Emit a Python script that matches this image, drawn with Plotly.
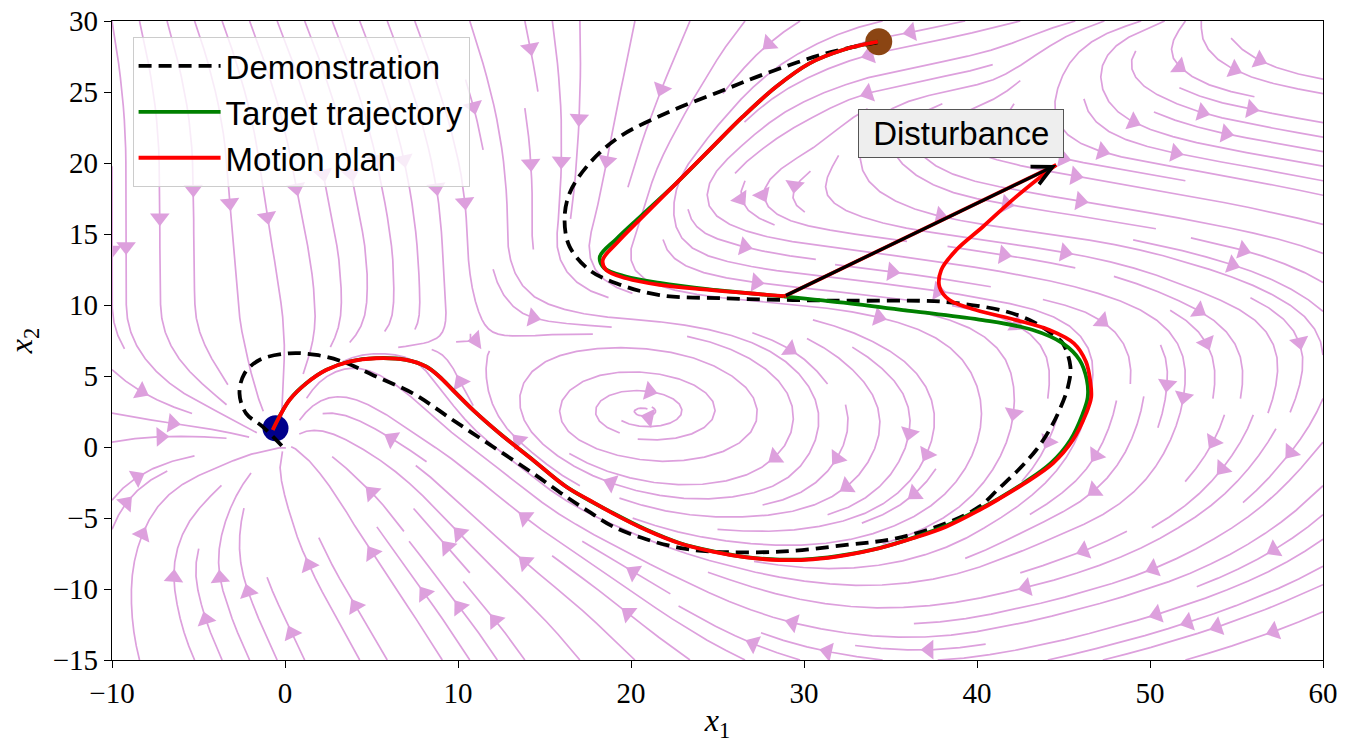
import math
import numpy as np
import plotly.graph_objects as go

# ------------------------------------------------------------------
# DATA
# ------------------------------------------------------------------
# Vector field sampled on a coarse grid; directions (degrees, 0 = right,
# 90 = up, as drawn) read from the stream-plot arrows. None = attractor.
field_x = [-10, -5, 0, 5, 10, 15, 20, 25, 30, 35, 40, 45, 50, 55, 60]
field_y = [-15, -10, -5, 0, 5, 10, 15, 20, 25, 30]
angle_row_m15 = [100, 115, 115, 120, 122, 125, 135, 150, 165, 175, -172, -167, -165, -163, -160]
angle_row_m10 = [85, 102, 115, 122, 128, 140, 145, 157, 170, -177, -168, -165, -162, -158, -155]
angle_row_m5 = [65, 55, 105, 125, 135, 145, 160, 178, -170, -155, -145, -155, -148, -145, -140]
angle_row_0 = [15, 5, None, 150, 145, 140, 172, -160, -115, -110, -110, -118, -115, -122, -130]
angle_row_5 = [-40, -45, -95, 155, 115, 40, 0, -30, -50, -45, -65, -95, -92, -90, -105]
angle_row_10 = [-90, -88, -82, -95, -85, -22, -5, -5, -5, -7, -10, -15, -25, -25, -38]
angle_row_15 = [-90, -90, -78, -80, -88, -92, -115, -20, -8, -8, -8, -8, -10, -12, -15]
angle_row_20 = [-90, -88, -80, -78, -78, -88, -105, -135, -150, -50, -15, -10, -10, -10, -10]
angle_row_25 = [-85, -78, -72, -72, -72, -82, -105, -125, -155, -168, -168, -100, -30, -12, -10]
angle_row_30 = [-80, -70, -68, -68, -70, -80, -100, -120, -150, -170, -167, -165, -165, -60, -10]

# Demonstration (goal at the origin)
demo_x = [34.25, 31.28, 27.81, 25.12, 22.23, 19.34, 17.60, 16.45, 16.16, 16.45, 17.60, 19.14,
          21.65, 25.50, 29.35, 32.63, 36.68, 38.41, 41.50, 43.23, 44.40, 44.96, 45.40, 45.25,
          44.77, 44.19, 43.42, 42.40, 41.20, 40.14, 38.22, 35.33, 32.44, 28.58, 24.73, 22.80,
          20.88, 18.95, 17.50, 16.25, 14.33, 12.02, 9.70, 7.39, 5.27, 3.34, 1.80, 0.26,
          -1.48, -2.34, -2.63, -2.25, -1.28, -0.13]
demo_y = [28.50, 27.72, 26.31, 25.02, 23.61, 21.85, 19.98, 17.87, 15.99, 14.11, 12.46, 11.53,
          10.70, 10.47, 10.35, 10.30, 10.30, 10.19, 9.60, 8.83, 7.90, 7.30, 5.65, 4.20,
          2.61, 1.20, -0.21, -1.60, -3.00, -4.20, -5.37, -6.43, -6.90, -7.37, -7.37, -7.10,
          -6.50, -5.60, -4.50, -3.50, -1.85, 0.02, 1.90, 3.78, 4.96, 6.01, 6.48, 6.60,
          6.13, 5.18, 3.78, 2.37, 1.42, 0.02]

# Target trajectory
target_x = [34.27, 32.24, 30.32, 28.39, 26.46, 24.54, 22.61, 20.60, 19.15, 18.20, 18.45, 19.70,
            21.65, 24.54, 28.87, 32.63, 36.49, 40.34, 43.23, 44.96, 45.93, 46.35, 46.40, 46.10,
            45.40, 44.30, 42.75, 41.30, 40.10, 38.20, 36.30, 34.40, 32.45, 30.50, 28.60, 26.65,
            24.75, 22.80, 20.90, 18.95, 16.25, 14.33, 12.40, 10.86, 9.70, 8.93, 8.16, 7.00,
            5.27, 3.73, 2.38, 1.23, 0.26, -0.32, -0.70]
target_y = [28.54, 27.96, 27.02, 25.37, 23.26, 20.92, 18.57, 16.30, 14.65, 13.40, 12.60, 12.00,
            11.55, 11.10, 10.60, 10.12, 9.53, 8.94, 8.24, 7.30, 6.13, 4.72, 3.50, 2.30,
            0.50, -1.10, -2.50, -3.60, -4.40, -5.55, -6.40, -7.10, -7.58, -7.88, -7.93, -7.75,
            -7.35, -6.76, -5.83, -4.65, -2.79, -0.91, 0.97, 2.62, 4.02, 4.96, 5.67, 6.14,
            6.26, 6.02, 5.43, 4.49, 3.32, 2.15, 1.22]

# Motion plan before the disturbance
plan_x = [34.27, 32.24, 30.32, 28.39, 26.46, 24.54, 22.61, 20.68, 19.25, 18.37, 18.56, 19.72,
          21.65, 24.54, 28.87]
plan_y = [28.54, 27.96, 27.02, 25.37, 23.26, 20.92, 18.57, 16.22, 14.45, 13.17, 12.46, 11.88,
          11.41, 11.06, 10.62]
# Disturbance (state jump)
disturbance_x = [28.87, 44.58]
disturbance_y = [10.62, 19.86]
# Motion plan after the disturbance
plan_after_x = [44.58, 44.19, 42.27, 40.34, 38.80, 37.93, 37.83, 38.41, 39.95, 42.27, 44.19,
                45.60, 46.30, 46.55, 46.60, 46.31, 45.54, 44.39, 42.70, 41.35, 40.14, 38.22,
                36.29, 34.36, 32.44, 30.51, 28.58, 26.66, 24.73, 22.80, 20.88, 18.95, 17.60,
                16.25, 14.33, 12.40, 10.86, 9.70, 8.93, 8.16, 7.00, 5.27, 3.73, 2.38, 1.23,
                0.26, -0.32, -0.71]
plan_after_y = [19.86, 19.51, 17.63, 15.51, 13.87, 12.46, 11.29, 10.35, 9.65, 8.94, 8.24,
                7.30, 6.00, 4.60, 3.50, 2.37, 0.49, -1.15, -2.60, -3.60, -4.44, -5.61,
                -6.43, -7.13, -7.61, -7.91, -7.96, -7.77, -7.37, -6.78, -5.85, -4.67, -3.75,
                -2.80, -0.92, 0.96, 2.61, 4.01, 4.95, 5.66, 6.13, 6.25, 6.01, 5.42, 4.48,
                3.31, 2.14, 1.20]

start_x, start_y = [-0.55], [1.32]
goal_x, goal_y = [34.32], [28.54]
disturbance_label = "Disturbance"
label_x, label_y = [39.05], [22.11]

x_ticks = [-10, 0, 10, 20, 30, 40, 50, 60]
y_ticks = [-15, -10, -5, 0, 5, 10, 15, 20, 25, 30]

# ------------------------------------------------------------------
# LAYOUT CONSTANTS
# ------------------------------------------------------------------
W, H = 1348, 747
M_L, M_R, M_T, M_B = 112, 25, 21, 87
X_RANGE = [-10, 60]
Y_RANGE = [-15, 30]
PX_X = (W - M_L - M_R) / (X_RANGE[1] - X_RANGE[0])
PX_Y = (H - M_T - M_B) / (Y_RANGE[1] - Y_RANGE[0])
STREAM_COLOR = "#DDA0DD"

# ------------------------------------------------------------------
# Stream lines (matplotlib-style streamplot algorithm)
# ------------------------------------------------------------------
rows = [angle_row_m15, angle_row_m10, angle_row_m5, angle_row_0, angle_row_5,
        angle_row_10, angle_row_15, angle_row_20, angle_row_25, angle_row_30]
U = np.zeros((len(field_y), len(field_x)))
V = np.zeros((len(field_y), len(field_x)))
for j, row in enumerate(rows):
    for i, a in enumerate(row):
        if a is None:
            continue
        t = math.radians(a)
        U[j, i] = math.cos(t) / PX_X
        V[j, i] = math.sin(t) / PX_Y


def stream_paths(xs, ys, U, V, density=1.5, maxlength=4.0, minlength=0.1):
    nxg, nyg = len(xs), len(ys)
    dxg = (xs[-1] - xs[0]) / (nxg - 1)
    dyg = (ys[-1] - ys[0]) / (nyg - 1)
    ug = U / dxg
    vg = V / dyg
    speed = np.hypot(ug / (nxg - 1), vg / (nyg - 1))
    nxm = nym = int(30 * density)
    mask = np.zeros((nym, nxm), dtype=np.int8)
    gx2m = (nxm - 1) / (nxg - 1)
    gy2m = (nym - 1) / (nyg - 1)
    maxds = min(1.0 / nxm, 1.0 / nym, 0.1)
    maxerror = 0.003

    class Terminate(Exception):
        pass

    class OutOfBounds(Exception):
        pass

    def within(xi, yi):
        return 0 <= xi <= nxg - 1 and 0 <= yi <= nyg - 1

    def interp(a, xi, yi):
        x = int(xi)
        y = int(yi)
        xn = x if x == nxg - 1 else x + 1
        yn = y if y == nyg - 1 else y + 1
        xt = xi - x
        yt = yi - y
        a0 = a[y, x] * (1 - xt) + a[y, xn] * xt
        a1 = a[yn, x] * (1 - xt) + a[yn, xn] * xt
        return a0 * (1 - yt) + a1 * yt

    st = {"traj": [], "cur": None}

    def update(xi, yi):
        if not within(xi, yi):
            raise Terminate
        xm = int(round(xi * gx2m))
        ym = int(round(yi * gy2m))
        if st["cur"] != (xm, ym):
            if mask[ym, xm] == 0:
                st["traj"].append((ym, xm))
                mask[ym, xm] = 1
                st["cur"] = (xm, ym)
            else:
                raise Terminate

    def make_f(sign):
        def f(xi, yi):
            if not within(xi, yi):
                raise OutOfBounds
            s = interp(speed, xi, yi)
            if s < 1e-12:
                raise Terminate
            return sign * interp(ug, xi, yi) / s, sign * interp(vg, xi, yi) / s
        return f

    def euler_to_edge(traj, f):
        xi, yi = traj[-1]
        cx, cy = f(xi, yi)
        dsx = np.inf if cx == 0 else (xi / -cx if cx < 0 else (nxg - 1 - xi) / cx)
        dsy = np.inf if cy == 0 else (yi / -cy if cy < 0 else (nyg - 1 - yi) / cy)
        ds = min(dsx, dsy)
        traj.append((xi + cx * ds, yi + cy * ds))
        return ds

    def rk12(x0, y0, f):
        ds = maxds
        stotal = 0.0
        xi, yi = x0, y0
        traj = []
        while True:
            try:
                if within(xi, yi):
                    traj.append((xi, yi))
                else:
                    raise OutOfBounds
                k1x, k1y = f(xi, yi)
                k2x, k2y = f(xi + ds * k1x, yi + ds * k1y)
            except OutOfBounds:
                if traj:
                    try:
                        stotal += euler_to_edge(traj, f)
                    except (OutOfBounds, Terminate):
                        pass
                break
            except Terminate:
                break
            dx1 = ds * k1x
            dy1 = ds * k1y
            dx2 = ds * 0.5 * (k1x + k2x)
            dy2 = ds * 0.5 * (k1y + k2y)
            err = math.hypot((dx2 - dx1) / (nxg - 1), (dy2 - dy1) / (nyg - 1))
            if err < maxerror:
                xi += dx2
                yi += dy2
                try:
                    update(xi, yi)
                except Terminate:
                    break
                if stotal + ds > maxlength:
                    break
                stotal += ds
            ds = maxds if err == 0 else min(maxds, 0.85 * ds * (maxerror / err) ** 0.5)
        return stotal, traj

    def integrate(x0, y0):
        if not within(x0, y0):
            return None
        st["traj"] = []
        try:
            update(x0, y0)
        except Terminate:
            return None
        s1, t1 = rk12(x0, y0, make_f(-1.0))
        st["cur"] = (int(round(x0 * gx2m)), int(round(y0 * gy2m)))
        s2, t2 = rk12(x0, y0, make_f(1.0))
        if s1 + s2 > minlength:
            return t1[::-1] + t2[1:]
        for (ym, xm) in st["traj"]:
            mask[ym, xm] = 0
        return None

    def starts(ny, nx):
        xfirst, yfirst, xlast, ylast = 0, 1, nx - 1, ny - 1
        x, y = 0, 0
        direction = "right"
        for _ in range(nx * ny):
            yield x, y
            if direction == "right":
                x += 1
                if x >= xlast:
                    xlast -= 1
                    direction = "up"
            elif direction == "up":
                y += 1
                if y >= ylast:
                    ylast -= 1
                    direction = "left"
            elif direction == "left":
                x -= 1
                if x <= xfirst:
                    xfirst += 1
                    direction = "down"
            elif direction == "down":
                y -= 1
                if y <= yfirst:
                    yfirst += 1
                    direction = "right"

    paths = []
    for xm, ym in starts(nym, nxm):
        if mask[ym, xm] == 0:
            t = integrate(xm / gx2m, ym / gy2m)
            if t is not None and len(t) > 1:
                arr = np.array(t)
                paths.append((xs[0] + arr[:, 0] * dxg, ys[0] + arr[:, 1] * dyg))
    return paths


paths = stream_paths(field_x, field_y, U, V, density=1.5)

line_x, line_y = [], []
arrow_x, arrow_y, arrow_ang = [], [], []
ARROW_SIZE = 17
for tx, ty in paths:
    line_x.extend(tx.tolist() + [None])
    line_y.extend(ty.tolist() + [None])
    s = np.cumsum(np.hypot(np.diff(tx), np.diff(ty)))
    n = int(np.searchsorted(s, s[-1] / 2.0))
    n = min(n, len(tx) - 2)
    hx, hy = np.mean(tx[n:n + 2]), np.mean(ty[n:n + 2])
    dxp = (tx[n + 1] - tx[n]) * PX_X
    dyp = (ty[n + 1] - ty[n]) * PX_Y
    L = math.hypot(dxp, dyp)
    if L == 0:
        continue
    phi = math.atan2(dyp, dxp)
    r = ARROW_SIZE / 2.0
    arrow_x.append(hx - r * math.cos(phi) / PX_X)
    arrow_y.append(hy - r * math.sin(phi) / PX_Y)
    arrow_ang.append(90 - math.degrees(phi))

# ------------------------------------------------------------------
# FIGURE
# ------------------------------------------------------------------
fig = go.Figure()
fig.add_trace(go.Scatter(x=line_x, y=line_y, mode="lines",
                         line=dict(color=STREAM_COLOR, width=1.7),
                         hoverinfo="skip", showlegend=False))
fig.add_trace(go.Scatter(x=arrow_x, y=arrow_y, mode="markers",
                         marker=dict(symbol="triangle-up", size=ARROW_SIZE,
                                     color=STREAM_COLOR, angle=arrow_ang,
                                     line=dict(width=0)),
                         hoverinfo="skip", showlegend=False))
fig.add_trace(go.Scatter(x=start_x, y=start_y, mode="markers",
                         marker=dict(size=26, color="#00008B"), showlegend=False))
fig.add_trace(go.Scatter(x=goal_x, y=goal_y, mode="markers",
                         marker=dict(size=27, color="#8B4513"), showlegend=False))

fig.add_trace(go.Scatter(x=demo_x, y=demo_y, mode="lines", name="Demonstration",
                         line=dict(color="black", width=3.8, dash="13px,7px", shape="spline",
                                   smoothing=1.0)))
fig.add_trace(go.Scatter(x=target_x, y=target_y, mode="lines", name="Target trajectory",
                         line=dict(color="#008000", width=3.8, shape="spline", smoothing=1.0)))
fig.add_trace(go.Scatter(x=plan_x, y=plan_y, mode="lines", name="Motion plan",
                         legendgroup="plan",
                         line=dict(color="#FF0000", width=3.8, shape="spline", smoothing=1.0)))
fig.add_trace(go.Scatter(x=disturbance_x, y=disturbance_y, mode="lines", legendgroup="plan",
                         showlegend=False, line=dict(color="#FF0000", width=3.8)))
fig.add_trace(go.Scatter(x=plan_after_x, y=plan_after_y, mode="lines", legendgroup="plan",
                         showlegend=False,
                         line=dict(color="#FF0000", width=3.8, shape="spline", smoothing=1.0)))

fig.add_annotation(x=disturbance_x[1], y=disturbance_y[1], ax=disturbance_x[0],
                   ay=disturbance_y[0], xref="x", yref="y", axref="x", ayref="y",
                   text="", showarrow=True, arrowhead=5, arrowsize=1.2, arrowwidth=3.2,
                   arrowcolor="black", standoff=0, startstandoff=0)
fig.add_annotation(x=label_x[0], y=label_y[0], xref="x", yref="y",
                   text="\u00a0" + disturbance_label + "\u00a0",
                   showarrow=False, font=dict(family="Liberation Sans", size=33, color="black"),
                   bgcolor="#EEEEEE", bordercolor="#555555", borderwidth=1, borderpad=5)

tick_font = dict(family="Liberation Serif", size=29, color="black")
axis_common = dict(showgrid=False, zeroline=False, showline=True, mirror=True,
                   linecolor="black", linewidth=1.3, ticks="outside", ticklen=7,
                   tickwidth=1.3, tickcolor="black", tickfont=tick_font, automargin=False)
fig.update_xaxes(range=X_RANGE, tickvals=x_ticks, **axis_common,
                 title=dict(text="<i>x</i><sub>1</sub>",
                            font=dict(family="Liberation Serif", size=32, color="black"),
                            standoff=0))
fig.update_yaxes(range=Y_RANGE, tickvals=y_ticks, **axis_common,
                 title=dict(text="<i>x</i><sub>2</sub>",
                            font=dict(family="Liberation Serif", size=32, color="black"),
                            standoff=10))

fig.update_layout(
    width=W, height=H, autosize=False,
    margin=dict(l=M_L, r=M_R, t=M_T, b=M_B, pad=0),
    plot_bgcolor="white", paper_bgcolor="white",
    showlegend=True,
    legend=dict(x=0.017, y=0.975, xanchor="left", yanchor="top",
                bgcolor="rgba(255,255,255,0.8)", bordercolor="#CCCCCC", borderwidth=1,
                font=dict(family="Liberation Sans", size=33, color="black"),
                itemwidth=82, traceorder="normal"),
)

fig.write_html("out.html", config={"displayModeBar": False},
               post_script="document.body.style.margin='0';")
